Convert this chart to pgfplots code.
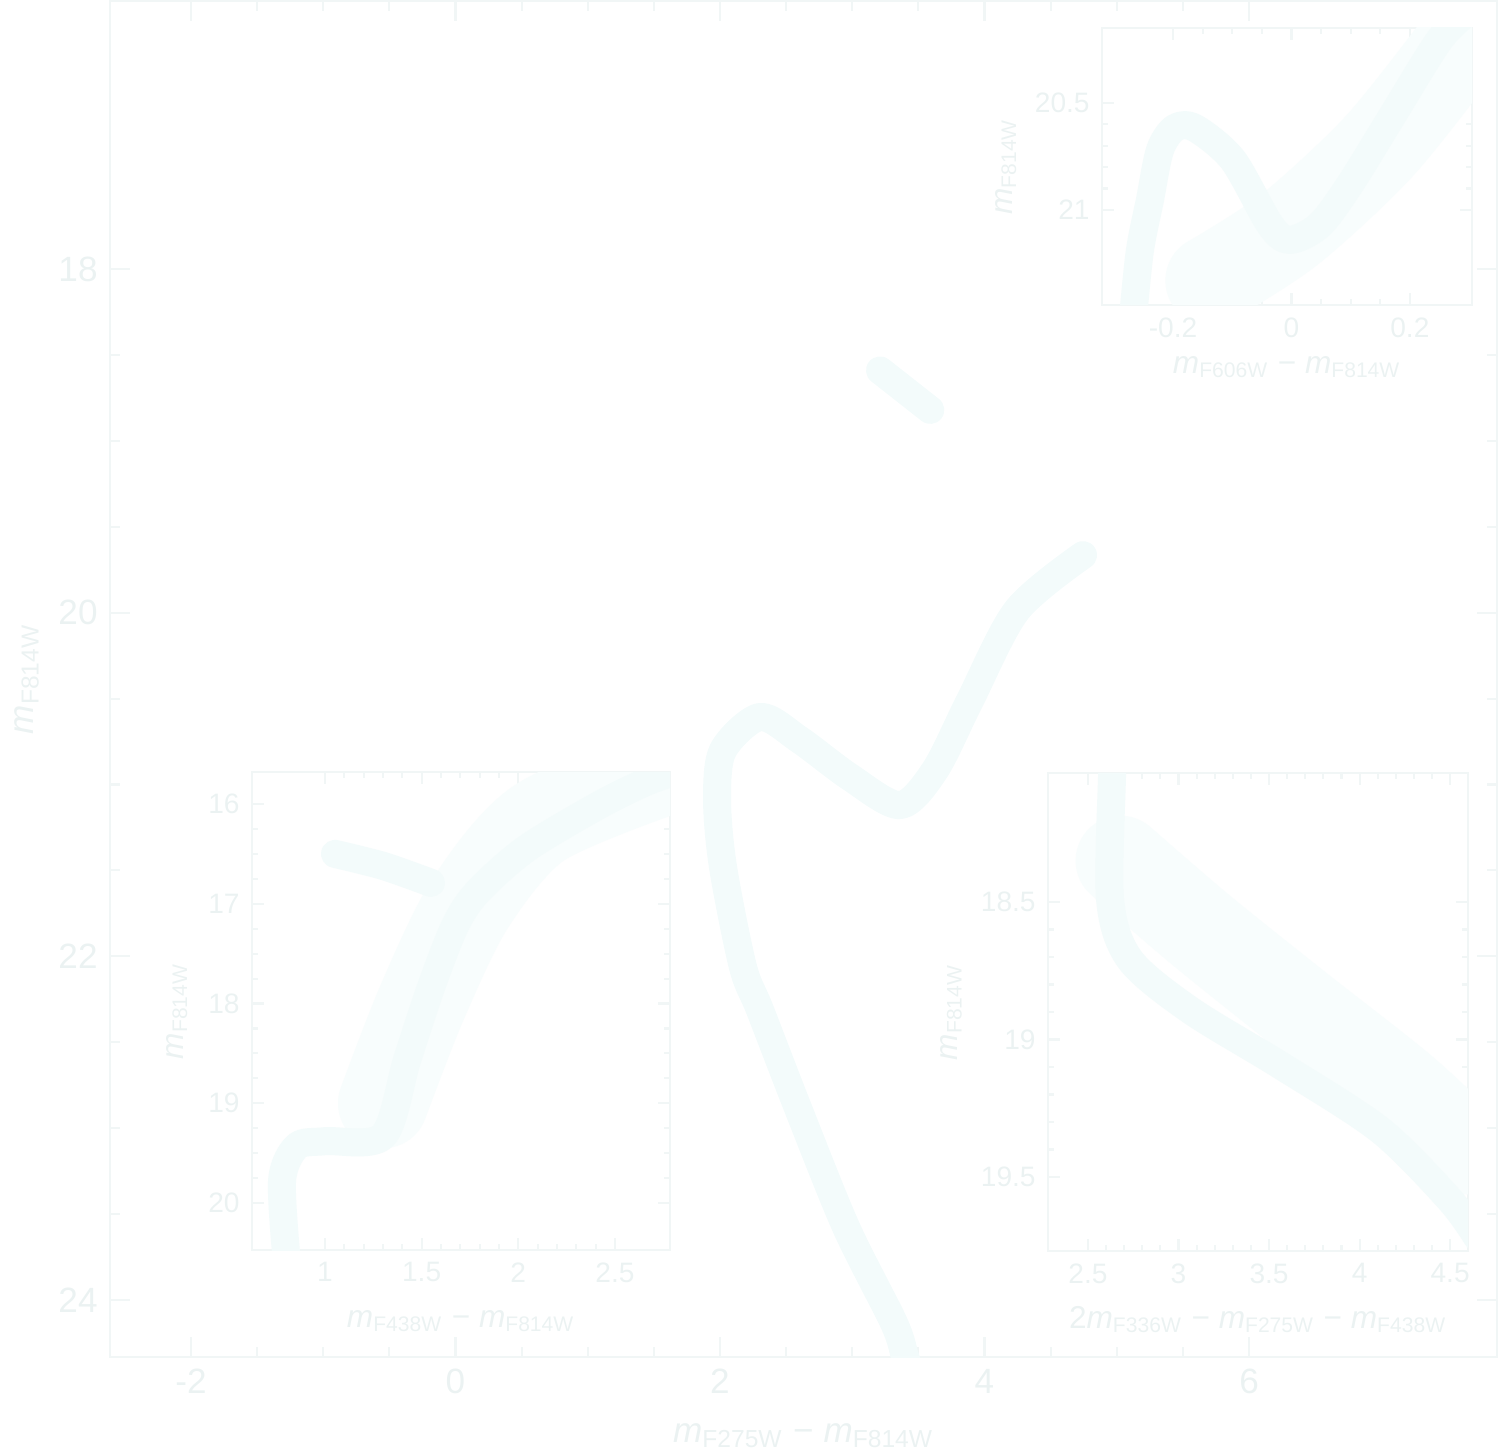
\documentclass[border=0pt]{standalone}
\usepackage{fontspec}
\setmainfont{Liberation Sans}
\usepackage{pgfplots}
\pgfplotsset{compat=1.18}
\definecolor{txt}{RGB}{235,242,242}
\definecolor{axc}{RGB}{241,246,246}
\definecolor{crv}{RGB}{243,251,251}
\definecolor{band}{RGB}{248,253,253}
\pgfplotsset{
  faint/.style={
    scale only axis,
    anchor=south west,
    axis line style={axc, line width=0.6pt},
    every tick/.style={axc, line width=0.6pt},
    tick label style={text=txt},
    label style={text=txt},
    /pgf/number format/assume math mode=true,
    clip=true,
  },
  curve/.style={draw=crv, line width=0.28cm, line join=round, line cap=round, smooth, tension=0.5, no markers},
  bandst/.style={draw=band, line width=0.9cm, line join=round, line cap=round, smooth, tension=0.5, no markers},
}
\begin{document}
\begin{tikzpicture}
\path[use as bounding box] (0,0) rectangle (15.01cm,14.49cm);
\clip (0,0) rectangle (15.01cm,14.49cm);
% main colour-magnitude diagram
\begin{axis}[faint,
  at={(1.10cm,0.92cm)}, width=13.87cm, height=13.56cm,
  xmin=-2.612, xmax=7.875, ymin=16.44, ymax=24.332, y dir=reverse,
  xtick={-2,0,2,4,6}, ytick={18,20,22,24}, minor tick num=3,
  major tick length=0.2cm, minor tick length=0.1cm,
  tick label style={font=\normalsize},
  xlabel={\textit{m}\textsubscript{F275W} − \textit{m}\textsubscript{F814W}},
  ylabel={\textit{m}\textsubscript{F814W}},
  xlabel style={at={(axis description cs:0.5,-0.058)}, anchor=center, font=\normalsize},
  ylabel style={at={(axis description cs:-0.06,0.5)}, anchor=center, rotate=0, font=\normalsize},
]
\addplot[curve] coordinates {
(3.45,24.45) (3.399,24.33) (3.316,24.135) (2.953,23.576) (2.590,22.884) (2.303,22.313)
(2.174,22.063) (2.023,21.481) (1.978,21.091) (2.023,20.80) (2.303,20.607) (2.605,20.741)
(2.983,20.957) (3.361,21.12) (3.626,20.916) (3.891,20.509) (4.246,19.985) (4.745,19.665)
};
\addplot[curve] coordinates {(3.21,18.59) (3.59,18.82)};
\end{axis}
% top-right inset
\begin{axis}[faint,
  at={(11.02cm,11.44cm)}, width=3.70cm, height=2.77cm,
  axis background/.style={fill=white},
  xmin=-0.32, xmax=0.305, ymin=20.15, ymax=21.444, y dir=reverse,
  xtick={-0.2,0,0.2}, ytick={20.5,21},
  minor x tick num=3, minor y tick num=4,
  major tick length=0.12cm, minor tick length=0.06cm,
  tick label style={font=\footnotesize},
  xlabel={\textit{m}\textsubscript{F606W} − \textit{m}\textsubscript{F814W}},
  ylabel={\textit{m}\textsubscript{F814W}},
  xlabel style={at={(axis description cs:0.5,-0.224)}, anchor=center, font=\small},
  ylabel style={at={(axis description cs:-0.26,0.5)}, anchor=center, font=\small},
]
\addplot[bandst] coordinates {(-0.137,21.33) (-0.0025,21.09) (0.149,20.70) (0.284,20.23)};
\addplot[curve] coordinates {
(-0.2675,21.5) (-0.256,21.19) (-0.239,20.953) (-0.222,20.72) (-0.197,20.617) (-0.163,20.617)
(-0.099,20.766) (-0.036,21.07) (-0.0025,21.14) (0.048,21.07) (0.099,20.88) (0.166,20.58)
(0.25,20.206) (0.30,20.07)
};
\end{axis}
% bottom-left inset
\begin{axis}[faint,
  at={(2.52cm,1.99cm)}, width=4.18cm, height=4.78cm,
  axis background/.style={fill=white},
  xmin=0.6224, xmax=2.785, ymin=15.679, ymax=20.471, y dir=reverse,
  xtick={1,1.5,2,2.5}, ytick={16,17,18,19,20},
  minor x tick num=4, minor y tick num=3,
  major tick length=0.12cm, minor tick length=0.06cm,
  tick label style={font=\footnotesize},
  xlabel={\textit{m}\textsubscript{F438W} − \textit{m}\textsubscript{F814W}},
  ylabel={\textit{m}\textsubscript{F814W}},
  xlabel style={at={(axis description cs:0.5,-0.149)}, anchor=center, font=\small},
  ylabel style={at={(axis description cs:-0.18,0.5)}, anchor=center, font=\small},
]
\addplot[bandst] coordinates {(1.30,19.0) (1.50,18.0) (1.75,17.0) (2.10,16.2) (2.70,15.7)};
\addplot[curve] coordinates {
(0.803,20.6) (0.778,19.77) (0.855,19.43) (1.0,19.38) (1.30,19.33) (1.424,18.57)
(1.548,17.84) (1.673,17.22) (1.79,16.88) (2.04,16.45) (2.41,16.02) (2.66,15.78) (2.85,15.65)
};
\addplot[curve] coordinates {(1.052,16.50) (1.30,16.62) (1.548,16.79)};
\end{axis}
% bottom-right inset
\begin{axis}[faint,
  at={(10.48cm,1.98cm)}, width=4.20cm, height=4.78cm,
  axis background/.style={fill=white},
  xmin=2.279, xmax=4.599, ymin=18.031, ymax=19.769, y dir=reverse,
  xtick={2.5,3,3.5,4,4.5}, ytick={18.5,19,19.5},
  minor x tick num=4, minor y tick num=4,
  major tick length=0.12cm, minor tick length=0.06cm,
  tick label style={font=\footnotesize},
  xlabel={2\textit{m}\textsubscript{F336W} − \textit{m}\textsubscript{F275W} − \textit{m}\textsubscript{F438W}},
  ylabel={\textit{m}\textsubscript{F814W}},
  xlabel style={at={(axis description cs:0.5,-0.144)}, anchor=center, font=\small},
  ylabel style={at={(axis description cs:-0.23,0.5)}, anchor=center, font=\small},
]
\addplot[bandst] coordinates {(2.68,18.35) (3.12,18.60) (3.67,18.89) (4.23,19.18) (4.59,19.40)};
\addplot[curve] coordinates {
(2.633,17.95) (2.633,18.03) (2.622,18.493) (2.732,18.71) (3.064,18.893) (3.561,19.093)
(4.113,19.329) (4.50,19.584) (4.65,19.72)
};
\end{axis}
\end{tikzpicture}
\end{document}
